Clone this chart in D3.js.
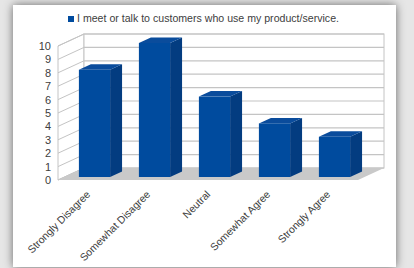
<!DOCTYPE html>
<html>
<head>
<meta charset="utf-8">
<script src="https://cdn.jsdelivr.net/npm/d3@7"></script>
<style>
  html, body { margin: 0; padding: 0; background: #e6e6e6; }
  svg { display: block; font-family: "Liberation Sans", Arial, sans-serif; }
</style>
</head>
<body>
<svg id="chart" width="414" height="268"></svg>
<script>
const categories = ['Strongly Disagree', 'Somewhat Disagree', 'Neutral', 'Somewhat Agree', 'Strongly Agree'];
const values = [8, 10, 6, 4, 3];
const yTicks = [0, 1, 2, 3, 4, 5, 6, 7, 8, 9, 10];
const seriesName = 'I meet or talk to customers who use my product/service.';

const svg = d3.select('#chart');

// depth of the 3d box (full depth offset)
const depth = { dx: 26, dy: -12 };
const barDepth = { from: 0.25, to: 0.71 };

const x = d3.scaleBand()
    .domain(categories)
    .range([58, 358])
    .paddingInner(0.48)
    .paddingOuter(0.24);

const y = d3.scaleLinear()
    .domain([0, 10])
    .range([180, 46]);

const defs = svg.append('defs');
const shadow = defs.append('filter')
    .attr('id', 'shadow')
    .attr('x', '-10%').attr('y', '-10%')
    .attr('width', '120%').attr('height', '120%');
shadow.append('feDropShadow')
    .attr('dx', 0).attr('dy', 0)
    .attr('stdDeviation', 5)
    .attr('flood-color', '#000')
    .attr('flood-opacity', 0.55);

// card
svg.append('rect')
    .attr('x', 13).attr('y', 5)
    .attr('width', 383).attr('height', 262)
    .attr('fill', '#fff')
    .attr('filter', 'url(#shadow)');

const plot = svg.append('g');
const x0 = x.range()[0], x1 = x.range()[1];

// left side wall
plot.append('polygon')
    .attr('points', [
        [x0, y(10)], [x0 + depth.dx, y(10) + depth.dy],
        [x0 + depth.dx, y(0) + depth.dy], [x0, y(0)]
    ].join(' '))
    .attr('fill', '#fff')
    .attr('stroke', '#c4c4c4')
    .attr('stroke-width', 1);

// back wall
plot.append('rect')
    .attr('x', x0 + depth.dx)
    .attr('y', y(10) + depth.dy)
    .attr('width', x1 - x0)
    .attr('height', y(0) - y(10))
    .attr('fill', '#fff')
    .attr('stroke', '#c4c4c4')
    .attr('stroke-width', 1);

// grid lines
plot.selectAll('line.back')
    .data(yTicks)
    .join('line')
    .attr('class', 'back')
    .attr('x1', x0 + depth.dx)
    .attr('x2', x1 + depth.dx)
    .attr('y1', d => y(d) + depth.dy)
    .attr('y2', d => y(d) + depth.dy)
    .attr('stroke', '#c4c4c4')
    .attr('stroke-width', 1.2);

plot.selectAll('line.side')
    .data(yTicks)
    .join('line')
    .attr('class', 'side')
    .attr('x1', x0)
    .attr('x2', x0 + depth.dx)
    .attr('y1', d => y(d))
    .attr('y2', d => y(d) + depth.dy)
    .attr('stroke', '#c4c4c4')
    .attr('stroke-width', 1);

// floor
plot.append('polygon')
    .attr('points', [
        [x0, y(0)], [x0 + depth.dx, y(0) + depth.dy],
        [x1 + depth.dx, y(0) + depth.dy], [x1, y(0)]
    ].join(' '))
    .attr('fill', '#c9c9c9');

// y labels
plot.selectAll('text.ytick')
    .data(yTicks)
    .join('text')
    .attr('class', 'ytick')
    .attr('x', x0 - 7)
    .attr('y', d => y(d) + 1)
    .attr('text-anchor', 'end')
    .attr('dominant-baseline', 'middle')
    .attr('font-size', 11)
    .attr('fill', '#404040')
    .text(d => d);

// bars
const bars = plot.selectAll('g.bar')
    .data(categories.map((c, i) => ({ cat: c, value: values[i] })))
    .join('g')
    .attr('class', 'bar');

bars.each(function(d) {
    const g = d3.select(this);
    const fx = depth.dx * barDepth.from, fy = depth.dy * barDepth.from;
    const bx = depth.dx * (barDepth.to - barDepth.from);
    const by = depth.dy * (barDepth.to - barDepth.from);
    const left = x(d.cat) + fx;
    const right = left + x.bandwidth();
    const top = y(d.value) + fy;
    const bottom = y(0) + fy;

    g.append('polygon')
        .attr('points', [[right, top], [right + bx, top + by], [right + bx, bottom + by], [right, bottom]].join(' '))
        .attr('fill', '#033c80');
    g.append('polygon')
        .attr('points', [[left, top], [left + bx, top + by], [right + bx, top + by], [right, top]].join(' '))
        .attr('fill', '#0a4c9c');
    g.append('rect')
        .attr('x', left)
        .attr('y', top)
        .attr('width', right - left)
        .attr('height', bottom - top)
        .attr('fill', '#004b9e');
});

// x labels
plot.selectAll('text.xtick')
    .data(categories)
    .join('text')
    .attr('class', 'xtick')
    .attr('transform', d => `translate(${x(d) + x.bandwidth() / 2 + 3},${y(0) + 15}) rotate(-45)`)
    .attr('text-anchor', 'end')
    .attr('font-size', 10.5)
    .attr('fill', '#404040')
    .text(d => d);

// legend
const legend = svg.append('g');
legend.append('rect')
    .attr('x', 68).attr('y', 16)
    .attr('width', 6).attr('height', 6)
    .attr('fill', '#004b9e');
legend.append('text')
    .attr('x', 77).attr('y', 22)
    .attr('font-size', 10.6)
    .attr('fill', '#404040')
    .text(seriesName);
</script>
</body>
</html>
